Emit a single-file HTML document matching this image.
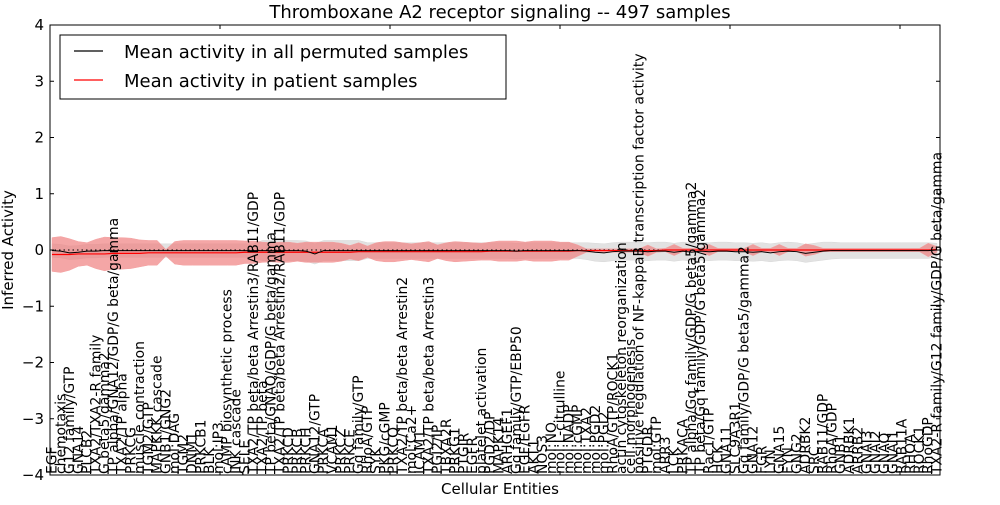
<!DOCTYPE html>
<html><head><meta charset="utf-8"><style>
body{margin:0;background:#fff;}
svg text{font-family:"DejaVu Sans","Liberation Sans",sans-serif;}
</style></head><body>
<svg id="chart" width="1000" height="500" xmlns="http://www.w3.org/2000/svg">
<rect width="1000" height="500" fill="#fff"/>
<text x="500" y="18" font-size="18" text-anchor="middle">Thromboxane A2 receptor signaling -- 497 samples</text>
<g id="bands"></g>
<g id="axes"></g>
<g id="xlabels"></g>
<text x="500" y="494" font-size="15" text-anchor="middle">Cellular Entities</text>
<text transform="translate(13,250) rotate(-90)" font-size="15" text-anchor="middle">Inferred Activity</text>
<g>
<rect x="60" y="35" width="446" height="64" fill="#fff" stroke="#000" stroke-width="1"/>
<line x1="74" y1="51" x2="103" y2="51" stroke="#000" stroke-width="1.2"/>
<text x="124" y="58" font-size="18">Mean activity in all permuted samples</text>
<line x1="74" y1="80" x2="103" y2="80" stroke="#f00" stroke-width="1.2"/>
<text x="124" y="87" font-size="18">Mean activity in patient samples</text>
</g>
</svg>
<script>
const categories=["EGF","chemotaxis","G12 family/GTP","GNA14","PLCB2","TXA2/TXA2-R family","G beta5/gamma2","TP alpha/GNA12/GDP/G beta/gamma","TXA2/TP alpha","PRKCG","muscle contraction","TGM2/GTP","MAPKKK cascade","GNB1/GNG2","mol:DAG","TGM2","DNM1","PRKCB1","BLK","mol:IP3","cAMP biosynthetic process","JNK cascade","SELE","TXA2/TP beta/beta Arrestin3/RAB11/GDP","TXA2/TP beta","TP beta/GNAQ/GDP/G beta/gamma","TXA2/TP beta/beta Arrestin2/RAB11/GDP","PRKCD","PRKCB","PRKCH","GNA12/GTP","PRKCA","VCAM1","PRKCZ","PRKCE","Gq family/GTP","RhoA/GTP","SYK","PKG/cGMP","PRKCQ","TXA2/TP beta/beta Arrestin2","mol:Ca2+","ICAM1","TXA2/TP beta/beta Arrestin3","PGI2/IP","TBXA2R","PRKG1","PTGIR","EGFR","platelet activation","PGD2/DP","MAPK14","ARHGEF1","Gq family/GTP/EBP50","EGF/EGFR","AKT1","NOS3","mol:NO","mol:L-citrulline","mol:NADP","mol:cGMP","mol:TXA2","mol:PGD2","mol:PGI2","RhoA/GTP/ROCK1","actin cytoskeleton reorganization","cell morphogenesis","positive regulation of NF-kappaB transcription factor activity","PTGDR","mol:GTP","ARR3","LCK","PRKACA","TP alpha/Gq family/GDP/G beta5/gamma2","TP beta/Gq family/GDP/G beta5/gamma2","Rac1/GTP","HCK","GNA11","SLC9A3R1","Gq family/GDP/G beta5/gamma2","GNA12","FGR","LYN","GNA15","FYN","GNG2","ADRBK2","SRC","RAB11/GDP","RhoA/GDP","GNB1","ADRBK1","ARRB2","GNAI3","GNAI2","GNAQ","GNAI1","RAB11A","RHOA","ROCK1","RhoGDP","TXA2-R family/G12 family/GDP/G beta/gamma"];
const patientMean=[-0.08,-0.08,-0.08,-0.07,-0.07,-0.07,-0.07,-0.06,-0.06,-0.06,
-0.06,-0.05,-0.05,-0.05,-0.05,-0.05,-0.05,-0.05,-0.05,-0.05,
-0.05,-0.05,-0.04,-0.04,-0.04,-0.04,-0.04,-0.04,-0.04,-0.04,
-0.04,-0.04,-0.04,-0.04,-0.04,-0.03,-0.03,-0.03,-0.03,-0.03,
-0.03,-0.03,-0.03,-0.03,-0.03,-0.03,-0.03,-0.03,-0.03,-0.03,
-0.02,-0.02,-0.02,-0.02,-0.02,-0.02,-0.02,-0.02,-0.02,-0.02,
-0.01,-0.01,-0.01,-0.01,-0.01,-0.01,-0.01,-0.01,-0.01,-0.01,
0,0,0,0,0,0,0,0,0,0,
0,0,0,0,0,0,0,0,0,0,
0,0,0,0,0,0,0,0,0,0,0,0.01];
const patientSpread=[0.3,0.32,0.28,0.22,0.2,0.26,0.3,0.28,0.28,0.27,
0.24,0.22,0.22,0.06,0.2,0.22,0.22,0.22,0.22,0.22,
0.22,0.22,0.2,0.2,0.18,0.17,0.18,0.18,0.16,0.18,
0.18,0.18,0.18,0.16,0.12,0.16,0.1,0.16,0.18,0.18,
0.16,0.14,0.16,0.18,0.12,0.16,0.18,0.17,0.16,0.15,
0.16,0.18,0.18,0.18,0.16,0.18,0.18,0.18,0.16,0.16,
0.1,0.03,0.03,0.03,0.03,0.03,0.03,0.03,0.1,0.03,
0.03,0.1,0.03,0.03,0.03,0.1,0.03,0.03,0.03,0.03,
0.1,0.03,0.03,0.1,0.03,0.03,0.11,0.08,0.03,0.03,
0.03,0.03,0.03,0.03,0.03,0.03,0.03,0.03,0.03,0.03,0.12,0.05];
const permutedMean=[-0.01,-0.02,-0.05,-0.04,-0.02,-0.02,-0.01,-0.01,-0.01,-0.01,
-0.01,-0.01,-0.01,-0.01,-0.01,-0.01,-0.01,-0.01,-0.01,-0.01,
-0.01,-0.01,-0.01,-0.01,-0.01,-0.01,-0.01,-0.01,-0.01,-0.02,
-0.07,-0.01,-0.01,-0.01,-0.01,-0.01,-0.01,-0.01,-0.01,-0.01,
-0.01,-0.01,-0.01,-0.01,-0.01,-0.01,-0.01,-0.01,-0.01,-0.01,
-0.01,-0.01,-0.01,-0.02,-0.01,-0.01,-0.01,-0.01,-0.01,-0.01,
-0.01,-0.02,-0.04,-0.05,-0.03,-0.02,-0.02,-0.02,-0.03,-0.02,
-0.02,-0.04,-0.02,-0.04,-0.02,-0.03,-0.02,-0.02,-0.03,-0.03,
-0.04,-0.03,-0.05,-0.03,-0.02,-0.03,-0.06,-0.04,-0.02,-0.01,
-0.01,-0.01,-0.01,-0.01,-0.01,-0.01,-0.01,-0.01,-0.01,-0.01,-0.01,0];
const permutedSpread=[0.12,0.12,0.12,0.12,0.12,0.12,0.12,0.12,0.12,0.12,
0.12,0.12,0.12,0.12,0.12,0.12,0.12,0.12,0.12,0.12,
0.12,0.12,0.12,0.12,0.18,0.18,0.18,0.18,0.18,0.18,
0.18,0.18,0.18,0.18,0.18,0.18,0.14,0.14,0.14,0.14,
0.14,0.14,0.14,0.14,0.14,0.14,0.14,0.14,0.14,0.14,
0.14,0.14,0.14,0.14,0.14,0.14,0.14,0.14,0.14,0.14,
0.14,0.15,0.16,0.16,0.16,0.16,0.16,0.16,0.16,0.16,
0.16,0.16,0.16,0.16,0.16,0.16,0.16,0.16,0.16,0.16,
0.16,0.16,0.16,0.16,0.16,0.16,0.16,0.16,0.16,0.15,
0.14,0.14,0.14,0.14,0.14,0.14,0.14,0.14,0.14,0.14,0.14,0.12];
const yTicks=[-4,-3,-2,-1,0,1,2,3,4];

const NS="http://www.w3.org/2000/svg";
const L=50,R=940,T=25,B=475;
const N=categories.length;
function xs(i){return 52+i*(937-52)/(N-1);}
function ys(v){return T+(4-v)*(B-T)/8;}
function mk(tag,attrs,parent){const e=document.createElementNS(NS,tag);for(const k in attrs)e.setAttribute(k,attrs[k]);parent.appendChild(e);return e;}
const bands=document.getElementById('bands'),axes=document.getElementById('axes'),xl=document.getElementById('xlabels');
function bandPath(m,s){const n=Math.min(N,m.length,s.length);let up=[],dn=[];for(let i=0;i<n;i++){up.push(xs(i)+','+ys(m[i]+s[i]));dn.unshift(xs(i)+','+ys(m[i]-s[i]));}return 'M'+up.join('L')+'L'+dn.join('L')+'Z';}
function linePath(m){return 'M'+m.slice(0,N).map((v,i)=>xs(i)+','+ys(v)).join('L');}
const gb=mk('path',{d:bandPath(permutedMean,permutedSpread),fill:'#e2e2e2',stroke:'#d8d8d8','stroke-width':'0.5'},bands);


const rb=mk('path',{d:bandPath(patientMean,patientSpread),fill:'#f08080','fill-opacity':'0.7',stroke:'#f4a0a0','stroke-width':'0.5'},bands);


const zl=mk('line',{x1:L,x2:R,y1:ys(0),y2:ys(0),stroke:'#000','stroke-dasharray':'1.5,3','stroke-width':'1'},bands);


const rl=mk('path',{d:linePath(patientMean),fill:'none',stroke:'#f00','stroke-width':'1.2'},bands);


const bl=mk('path',{d:linePath(permutedMean),fill:'none',stroke:'#000','stroke-width':'1'},bands);


const frame=mk('rect',{x:L,y:T,width:R-L,height:B-T,fill:'none',stroke:'#000','stroke-width':'1'},axes);


yTicks.forEach(v=>{
  const y=ys(v);
  mk('line',{x1:L,x2:L+4,y1:y,y2:y,stroke:'#000'},axes);
  mk('line',{x1:R,x2:R-4,y1:y,y2:y,stroke:'#000'},axes);
  const t=mk('text',{x:L-6,y:y+5,'font-size':'15','text-anchor':'end'},axes);
  t.textContent=(v<0?'\u2212':'')+Math.abs(v);
  
  
});
for(let i=0;i<N;i+=20){mk('line',{x1:L+i*8.5,x2:L+i*8.5,y1:T,y2:T+4,stroke:'#000'},axes);mk('line',{x1:L+i*8.5,x2:L+i*8.5,y1:B,y2:B-4,stroke:'#000'},axes);}
categories.forEach((c,i)=>{
  const x=xs(i)+4.5;
  const t=mk('text',{transform:'translate('+x+','+(B-1)+') rotate(-90)','font-size':'13.9'},xl);
  t.textContent=c;
  
  
});
</script>
</body></html>
